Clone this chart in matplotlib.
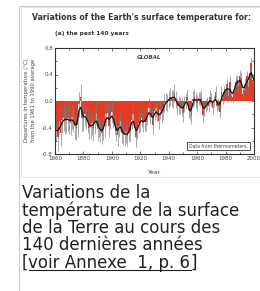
import numpy as np
import matplotlib
matplotlib.use("Agg")
import matplotlib.pyplot as plt
from matplotlib.patches import Rectangle
from matplotlib.lines import Line2D

# annual global temperature anomalies 1861-2000 (deg C, vs 1961-1990)
years = np.arange(1861, 2001)
anomalies = [
    -0.42, -0.55, -0.30, -0.48, -0.28, -0.26, -0.30, -0.28, -0.25, -0.30,
    -0.33, -0.24, -0.28, -0.38, -0.40, -0.36, -0.05, 0.06, -0.26, -0.27,
    -0.20, -0.24, -0.30, -0.40, -0.39, -0.33, -0.42, -0.32, -0.18, -0.42,
    -0.38, -0.45, -0.48, -0.42, -0.38, -0.20, -0.18, -0.38, -0.25, -0.16,
    -0.24, -0.36, -0.45, -0.52, -0.38, -0.30, -0.48, -0.50, -0.52, -0.47,
    -0.53, -0.47, -0.45, -0.28, -0.20, -0.40, -0.55, -0.42, -0.33, -0.32,
    -0.25, -0.33, -0.32, -0.31, -0.22, -0.10, -0.21, -0.21, -0.36, -0.15,
    -0.11, -0.17, -0.30, -0.14, -0.20, -0.15, -0.03, -0.01, -0.03, 0.02,
    0.06, 0.04, 0.03, 0.12, 0.02, -0.08, -0.06, -0.07, -0.09, -0.18,
    -0.04, 0.00, 0.06, -0.13, -0.17, -0.22, 0.03, 0.06, 0.02, -0.03,
    0.04, 0.03, 0.06, -0.21, -0.12, -0.07, -0.04, -0.07, 0.06, 0.02,
    -0.10, 0.00, 0.14, -0.08, -0.04, -0.16, 0.13, 0.05, 0.14, 0.17,
    0.25, 0.08, 0.29, 0.08, 0.06, 0.14, 0.29, 0.31, 0.22, 0.38,
    0.35, 0.11, 0.16, 0.25, 0.37, 0.21, 0.42, 0.57, 0.32, 0.28,
]
# uncertainty (half range) per decade, 1861-1870 ... 1991-2000
decade_unc = [0.20, 0.19, 0.18, 0.17, 0.16, 0.15, 0.14, 0.13, 0.13, 0.12, 0.10, 0.09, 0.09, 0.09]

x_ticks = [1860, 1880, 1900, 1920, 1940, 1960, 1980, 2000]
y_ticks = [-0.8, -0.4, 0.0, 0.4, 0.8]

caption = ["Variations de la", "température de la surface",
           "de la Terre au cours des", "140 dernières années"]
link_text = "voir Annexe  1, p. 6"

W, H = 260, 291
anom = np.array(anomalies)
unc = np.repeat(decade_unc, 10)

# short binomial smoothing
kern = np.array([1, 4, 6, 4, 1], float)
kern /= kern.sum()
pad = len(kern) // 2
smooth = np.convolve(np.pad(anom, pad, mode="edge"), kern, mode="valid")


def fx(px):
    return px / W


def fy(py):
    return 1 - py / H


fig = plt.figure(figsize=(W / 100, H / 100), dpi=100)
fig.patch.set_facecolor("white")

# thumbnail frame and image area
fig.patches.append(Rectangle((fx(18.5), -0.1), 1.2, fy(5.5) + 0.1, transform=fig.transFigure,
                             fc="white", ec="#c8ccd1", lw=0.72, zorder=-2))
fig.patches.append(Rectangle((fx(21), fy(177)), 1.2, (177 - 7) / H, transform=fig.transFigure,
                             fc="white", ec="#e6e6e6", lw=0.72, zorder=-1))

ax = fig.add_axes([fx(55), fy(154), 199 / W, 106 / H])
ax.set_zorder(1)
ax.bar(years, anom, width=1.0, color="#e43b22", lw=0, zorder=2)
ax.vlines(years, anom - unc, anom + unc, color="#7a7a7a", lw=0.45, zorder=3)
ax.plot(years, smooth, color="#111111", lw=0.9, zorder=4)

ax.set_xlim(1860, 2000)
ax.set_ylim(-0.8, 0.8)
ax.set_xticks(x_ticks)
ax.set_xticklabels([str(v) for v in x_ticks])
ax.set_yticks(y_ticks)
ax.set_yticklabels(["%.1f" % v for v in y_ticks])
ax.set_xticks(np.arange(1860, 2001, 10), minor=True)
ax.set_yticks(np.arange(-0.8, 0.81, 0.2), minor=True)
ax.tick_params(direction="in", top=True, right=True, labelsize=4, length=2.2, width=0.5,
               pad=1.5, colors="#444444")
ax.tick_params(which="minor", direction="in", top=True, right=True, length=1.2, width=0.4)
for s in ax.spines.values():
    s.set_linewidth(0.8)
    s.set_color("#333333")

ax.text(0.47, 0.915, "GLOBAL", transform=ax.transAxes, fontsize=4, style="italic",
        weight="bold", ha="center", va="center", color="#444444")
ax.text(0.82, 0.075, "Data from thermometers.", transform=ax.transAxes, fontsize=3.3,
        ha="center", va="center", color="#444444",
        bbox=dict(fc="white", ec="#333333", lw=0.6, boxstyle="square,pad=0.4"))

fig.text(fx(142), fy(17), "Variations of the Earth's surface temperature for:", ha="center",
         va="center", fontsize=5.6, weight="bold", color="#333333")
fig.text(fx(55), fy(34), "(a) the past 140 years", ha="left", va="center", fontsize=4.2,
         weight="bold", color="#333333")
fig.text(fx(27), fy(100), "Departures in temperature (°C)", rotation=90, ha="center",
         va="center", fontsize=3.8, color="#444444")
fig.text(fx(33.5), fy(100), "from the 1961 to 1990 average", rotation=90, ha="center",
         va="center", fontsize=3.8, color="#444444")
fig.text(fx(155), fy(172), "Year", ha="center", va="center", fontsize=4.5, color="#444444")

# caption
txt_kw = dict(fontsize=12, va="baseline", ha="left", family="DejaVu Sans", color="#202122")
for i, line in enumerate(caption):
    fig.text(fx(22), fy(198 + 17.5 * i), line, **txt_kw)

r = fig.canvas.get_renderer()
base = 198 + 17.5 * 4
t0 = fig.text(fx(22), fy(base), "[", **txt_kw)
b0 = t0.get_window_extent(r)
t1 = fig.text(b0.x1 / W, fy(base), link_text, **txt_kw)
b1 = t1.get_window_extent(r)
fig.text(b1.x1 / W, fy(base), "]", **txt_kw)
fig.add_artist(Line2D([b0.x1 / W, b1.x1 / W], [fy(base + 2), fy(base + 2)],
                      transform=fig.transFigure, color="#202122", lw=0.8))

fig.savefig("out.png", dpi=100)
